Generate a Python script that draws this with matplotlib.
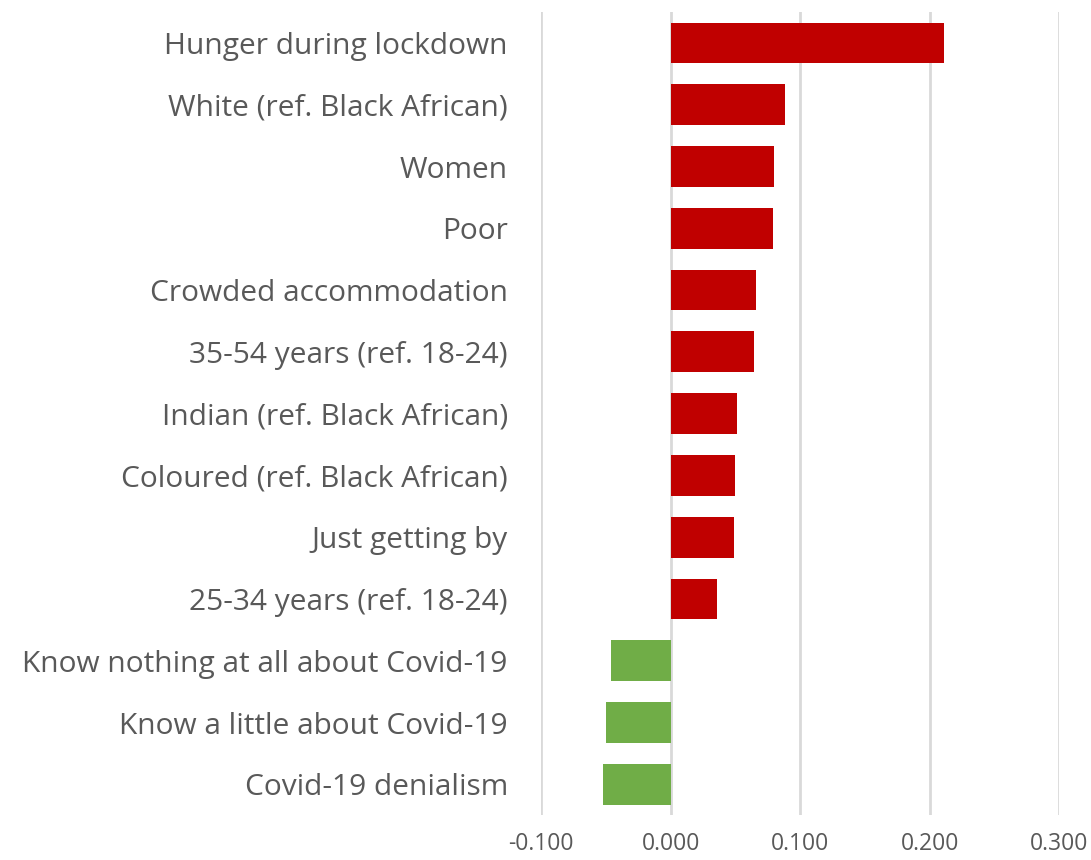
import matplotlib.pyplot as plt

plt.rcParams['font.family'] = ['Open Sans', 'DejaVu Sans']

# categories top to bottom
labels = ['Hunger during lockdown', 'White (ref. Black African)', 'Women', 'Poor',
          'Crowded accommodation', '35-54 years (ref. 18-24)', 'Indian (ref. Black African)',
          'Coloured (ref. Black African)', 'Just getting by', '25-34 years (ref. 18-24)',
          'Know nothing at all about Covid-19', 'Know a little about Covid-19',
          'Covid-19 denialism']
values = [0.211, 0.088, 0.080, 0.079, 0.066, 0.064, 0.051, 0.050, 0.049, 0.036,
          -0.046, -0.050, -0.052]
xticks = [-0.1, 0.0, 0.1, 0.2, 0.3]

colors = ['#C00000' if v > 0 else '#70AD47' for v in values]

fig = plt.figure(figsize=(10.91, 8.6), dpi=100)
ax = fig.add_axes([0.496, 0.052, 0.475, 0.934])

y = list(range(len(labels)))[::-1]
ax.barh(y, values, height=0.66, color=colors, zorder=3)

ax.set_xlim(-0.1, 0.3)
ax.set_ylim(-0.5, len(labels) - 0.5)
ax.set_xticks(xticks)
ax.set_xticklabels(['%.3f' % t for t in xticks])
ax.set_yticks(y)
ax.set_yticklabels(labels)

ax.grid(axis='x', color='#D9D9D9', linewidth=2, zorder=0)
for s in ax.spines.values():
    s.set_visible(False)
ax.tick_params(axis='y', length=0, pad=24, labelsize=21.5, labelcolor='#595959')
ax.tick_params(axis='x', length=0, pad=12, labelsize=16.5, labelcolor='#595959')

plt.savefig('out.png', dpi=100)
